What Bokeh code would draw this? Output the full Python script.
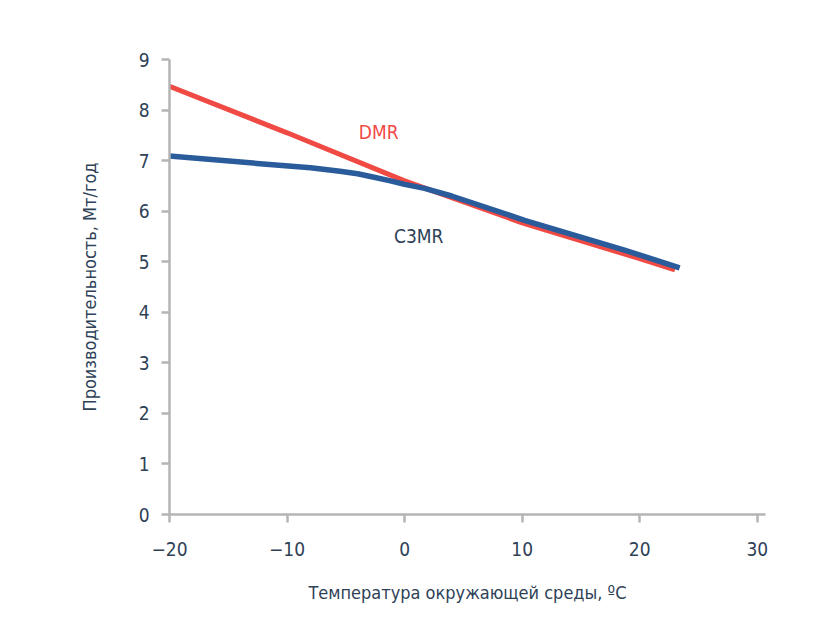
from bokeh.plotting import figure
from bokeh.models import Label, FixedTicker
from bokeh.embed import file_html
from bokeh.resources import INLINE

# Data
temp_dmr = [-20, -10, 0, 10, 20, 23]
prod_dmr = [8.47, 7.55, 6.6, 5.77, 5.06, 4.84]
temp_c3mr = [-20, -12.3, -8, -5.5, -4, -2.6, -1.2, 0, 1.7, 4, 10.2, 18.7, 23.4]
prod_c3mr = [7.09, 6.94, 6.86, 6.79, 6.74, 6.67, 6.6, 6.53, 6.45, 6.3, 5.82, 5.23, 4.88]
x_ticks = [-20, -10, 0, 10, 20, 30]
y_ticks = [0, 1, 2, 3, 4, 5, 6, 7, 8, 9]
series_names = ["DMR", "C3MR"]
x_title = "Температура окружающей среды, ºС"
y_title = "Производительность, Мт/год"

FONT = "DejaVu Sans Condensed, Liberation Sans Narrow, Roboto"
TXT = "#2e4157"
AX = "#b5b5b5"
RED = "#f04a44"
BLUE = "#2a5c9c"

p = figure(width=823, height=624, x_range=(-20, 30.7), y_range=(0, 9),
           output_backend="svg", toolbar_location=None,
           min_border_left=169, min_border_top=59, min_border_right=58, min_border_bottom=110)
p.grid.visible = False
p.outline_line_color = None

p.line(temp_dmr, prod_dmr, line_color=RED, line_width=5)
p.line(temp_c3mr, prod_c3mr, line_color=BLUE, line_width=5.5, line_join="round")

for ax in (p.xaxis[0], p.yaxis[0]):
    ax.axis_line_color = AX
    ax.axis_line_width = 2.5
    ax.major_tick_line_color = AX
    ax.major_tick_line_width = 2.5
    ax.major_tick_in = 0
    ax.major_tick_out = 8
    ax.minor_tick_line_color = None
    ax.major_label_text_font = FONT
    ax.major_label_text_font_size = "19px"
    ax.major_label_text_color = TXT
    ax.axis_label_text_font = FONT
    ax.axis_label_text_font_size = "18px"
    ax.axis_label_text_font_style = "normal"
    ax.axis_label_text_color = TXT

p.xaxis.ticker = FixedTicker(ticks=x_ticks)
p.yaxis.ticker = FixedTicker(ticks=y_ticks)
p.xaxis.axis_label = x_title
p.yaxis.axis_label = y_title
p.xaxis.major_label_standoff = 19
p.yaxis.major_label_standoff = 12
p.xaxis.axis_label_standoff = 23
p.yaxis.axis_label_standoff = 36

p.add_layout(Label(x=-2.2, y=7.56, text=series_names[0], text_color=RED,
                   text_font=FONT, text_font_size="19px",
                   text_align="center", text_baseline="middle"))
p.add_layout(Label(x=1.2, y=5.5, text=series_names[1], text_color=TXT,
                   text_font=FONT, text_font_size="19px",
                   text_align="center", text_baseline="middle"))

open("out.html", "w").write(file_html(p, INLINE))
